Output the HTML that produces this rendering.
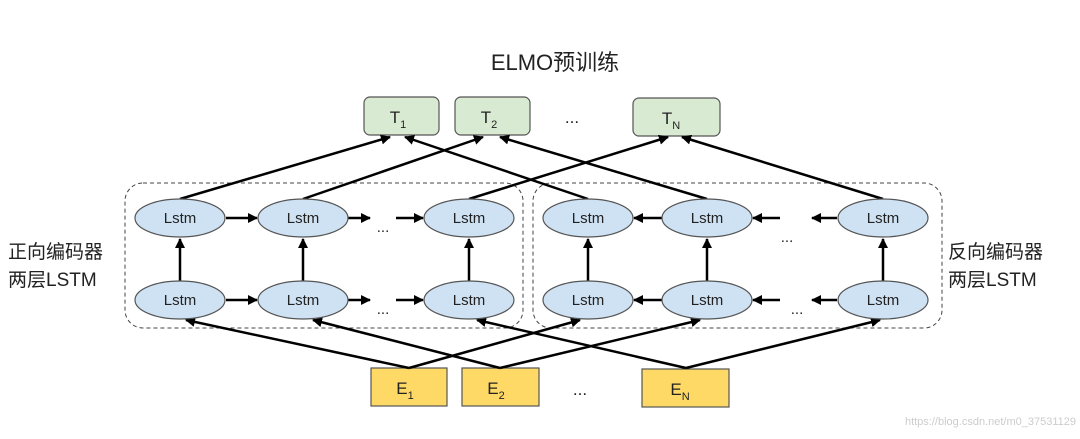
<!DOCTYPE html>
<html><head><meta charset="utf-8"><style>
body{margin:0;background:#fff;width:1080px;height:434px;overflow:hidden}
svg text{font-family:"Liberation Sans","Noto Sans CJK SC",sans-serif}
</style></head><body>
<svg width="1080" height="434" viewBox="0 0 1080 434" xmlns="http://www.w3.org/2000/svg">
<defs><marker id="a" viewBox="0 0 10 10" refX="9" refY="5" markerWidth="4" markerHeight="4" orient="auto"><path d="M0,0L10,5L0,10z" fill="#000"/></marker></defs>
<text x="555" y="70" font-size="22" text-anchor="middle" fill="#222">ELMO预训练</text>
<rect x="125" y="183" width="398" height="145" rx="18" fill="none" stroke="#444" stroke-dasharray="4,3"/>
<rect x="533" y="183" width="409" height="145" rx="18" fill="none" stroke="#444" stroke-dasharray="4,3"/>
<g fill="#d9ead3" stroke="#555" stroke-width="1.2">
<rect x="364" y="97" width="75" height="38" rx="6"/><rect x="455" y="97" width="75" height="38" rx="6"/><rect x="633" y="98" width="87" height="38" rx="6"/></g>
<g fill="#ffd966" stroke="#555" stroke-width="1.2">
<rect x="371" y="368" width="76" height="38"/><rect x="462" y="368" width="77" height="38"/><rect x="642" y="369" width="87" height="38"/></g>
<g font-size="17" fill="#222" text-anchor="middle">
<text x="398" y="123">T<tspan font-size="11" dy="5">1</tspan></text>
<text x="489" y="123">T<tspan font-size="11" dy="5">2</tspan></text>
<text x="671" y="124">T<tspan font-size="11" dy="5">N</tspan></text>
<text x="405" y="394">E<tspan font-size="11" dy="5">1</tspan></text>
<text x="496" y="394">E<tspan font-size="11" dy="5">2</tspan></text>
<text x="680" y="395">E<tspan font-size="11" dy="5">N</tspan></text>
<text x="572" y="123">...</text><text x="580" y="395">...</text>
</g>
<g stroke="#000" stroke-width="2.5" marker-end="url(#a)" fill="none">
<line x1="180" y1="199" x2="390" y2="137"/><line x1="303" y1="199" x2="483" y2="137"/><line x1="469" y1="199" x2="668" y2="137"/>
<line x1="588" y1="199" x2="405" y2="137"/><line x1="707" y1="199" x2="500" y2="137"/><line x1="883" y1="199" x2="682" y2="137"/>
<line x1="409" y1="368" x2="186" y2="320"/><line x1="409" y1="368" x2="580" y2="320"/>
<line x1="500" y1="368" x2="313" y2="320"/><line x1="500" y1="368" x2="700" y2="320"/>
<line x1="686" y1="368" x2="477" y2="320"/><line x1="686" y1="368" x2="880" y2="320"/>
<line x1="180" y1="281" x2="180" y2="239"/><line x1="303" y1="281" x2="303" y2="239"/><line x1="469" y1="281" x2="469" y2="239"/>
<line x1="588" y1="281" x2="588" y2="239"/><line x1="707" y1="281" x2="707" y2="239"/><line x1="883" y1="281" x2="883" y2="239"/>
<line x1="226" y1="218" x2="257" y2="218"/><line x1="348" y1="218" x2="370" y2="218"/><line x1="396" y1="218" x2="423" y2="218"/>
<line x1="226" y1="300" x2="257" y2="300"/><line x1="348" y1="300" x2="370" y2="300"/><line x1="396" y1="300" x2="423" y2="300"/>
<line x1="663" y1="218" x2="634" y2="218"/><line x1="780" y1="218" x2="753" y2="218"/><line x1="837" y1="218" x2="812" y2="218"/>
<line x1="663" y1="300" x2="634" y2="300"/><line x1="780" y1="300" x2="753" y2="300"/><line x1="837" y1="300" x2="812" y2="300"/>
</g>
<g fill="#cfe2f3" stroke="#555" stroke-width="1.2">
<ellipse cx="180" cy="218" rx="45" ry="19"/><ellipse cx="303" cy="218" rx="45" ry="19"/><ellipse cx="469" cy="218" rx="45" ry="19"/>
<ellipse cx="588" cy="218" rx="45" ry="19"/><ellipse cx="707" cy="218" rx="45" ry="19"/><ellipse cx="883" cy="218" rx="45" ry="19"/>
<ellipse cx="180" cy="300" rx="45" ry="19"/><ellipse cx="303" cy="300" rx="45" ry="19"/><ellipse cx="469" cy="300" rx="45" ry="19"/>
<ellipse cx="588" cy="300" rx="45" ry="19"/><ellipse cx="707" cy="300" rx="45" ry="19"/><ellipse cx="883" cy="300" rx="45" ry="19"/>
</g>
<g font-size="15" fill="#222" text-anchor="middle">
<text x="180" y="223">Lstm</text><text x="303" y="223">Lstm</text><text x="469" y="223">Lstm</text>
<text x="588" y="223">Lstm</text><text x="707" y="223">Lstm</text><text x="883" y="223">Lstm</text>
<text x="180" y="305">Lstm</text><text x="303" y="305">Lstm</text><text x="469" y="305">Lstm</text>
<text x="588" y="305">Lstm</text><text x="707" y="305">Lstm</text><text x="883" y="305">Lstm</text>
<text x="383" y="232">...</text><text x="383" y="314">...</text><text x="787" y="242">...</text><text x="797" y="314">...</text>
</g>
<g font-size="19" fill="#222">
<text x="8" y="258">正向编码器</text><text x="8" y="286">两层LSTM</text>
<text x="948" y="258">反向编码器</text><text x="948" y="286">两层LSTM</text>
</g>
<text x="1076" y="425" font-size="11" fill="#ccc" text-anchor="end">https://blog.csdn.net/m0_37531129</text>
</svg>
</body></html>
